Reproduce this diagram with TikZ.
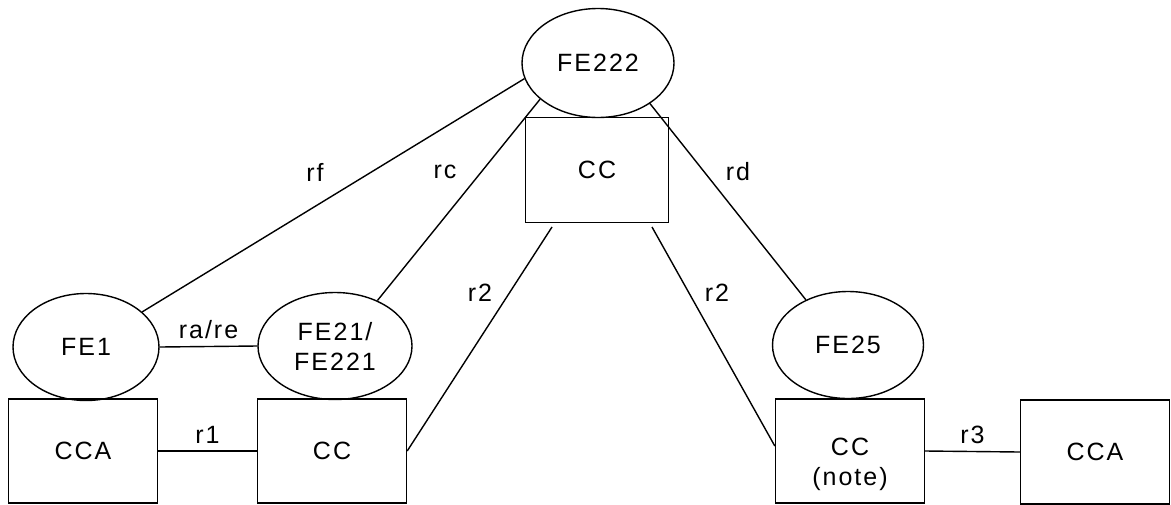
\documentclass[tikz,border=0pt]{standalone}
\usepackage{fontspec}
\setmainfont{Liberation Sans}[LetterSpace=8]
\usetikzlibrary{shapes.geometric, positioning}

\tikzset{
  fe/.style={draw, ellipse, inner sep=0pt, minimum width=75.5pt, minimum height=53.5pt, align=center},
  unit/.style={draw, rectangle, inner sep=0pt, minimum width=74.5pt, minimum height=52pt, align=center},
}

\begin{document}
\begin{tikzpicture}[x=0.5pt, y=-0.5pt, font=\fontsize{12.5}{15}\selectfont, line width=0.7pt]
  \useasboundingbox (0,0) rectangle (1171,504);
  \node[fe, minimum width=76pt, minimum height=54.5pt] (fe222) at (598,63) {FE222};
  \node[unit, minimum width=71.5pt, minimum height=52.5pt] (ccM) at (597,170) {CC};
  \node[fe, minimum width=73pt] (fe1) at (86,347) {FE1};
  \node[fe, minimum width=77pt] (fe21) at (335,346) {FE21/\\FE221};
  \node[fe] (fe25) at (848,345) {FE25};
  \node[unit] (ccaL) at (83,451) {CCA};
  \node[unit] (ccL) at (332,451) {CC};
  \node[unit] (ccN) at (850,451) {\rule{0pt}{22pt}CC\\(note)};
  \node[unit] (ccaR) at (1095,452) {CCA};
  \coordinate (m1) at (552,227);
  \coordinate (m2) at (652,227);
  \draw
  (fe1.east) edge node[above] (lra) {ra/re} (fe21.west)
  (ccaL.east) edge node[above] (lr1) {r1} (ccL.west)
  (ccN.east) edge node[above] (lr3) {r3} (ccaR.west)
  (fe1.32) edge (fe222.192)
  (fe21.47) edge (fe222.212)
  (fe222.322) edge (fe25.133)
  (ccL.east) edge (m1)
  (m2) edge ([yshift=2.5pt]ccN.west);
  \node (lrf) at (315,172) {rf};
  \node (lrc) at (445,172) {rc};
  \node (lrd) at (738,172) {rd};
  \node (lr2a) at (480,293) {r2};
  \node (lr2b) at (717,293) {r2};
\end{tikzpicture}
\end{document}
